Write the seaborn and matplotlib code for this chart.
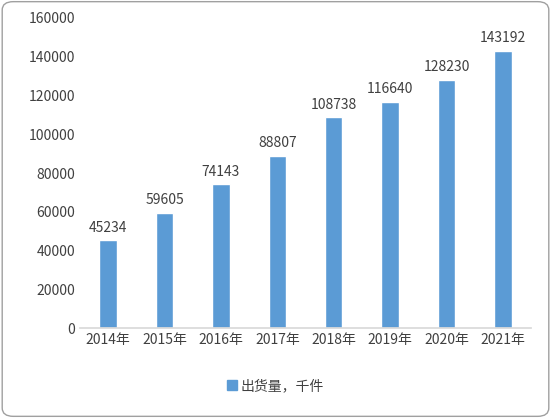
import matplotlib
matplotlib.use("Agg")
import matplotlib.pyplot as plt
import seaborn as sns
import pandas as pd
from matplotlib.patches import FancyBboxPatch, Patch

years = ["2014年","2015年","2016年","2017年","2018年","2019年","2020年","2021年"]
values = [45234, 59605, 74143, 88807, 108738, 116640, 128230, 143192]
series_name = "出货量，千件"

sns.set_theme(style="white")
plt.rcParams['font.family'] = ['Noto Sans CJK SC', 'DejaVu Sans']

fig = plt.figure(figsize=(5.51, 4.18), dpi=100)
ax = fig.add_axes([0.145, 0.215, 0.819, 0.742])
df = pd.DataFrame({"year": years, "v": values})
sns.barplot(data=df, x="year", y="v", color="#5B9BD5", saturation=1, width=0.31, ax=ax)
for i, v in enumerate(values):
    ax.text(i, v + 3000, str(v), ha="center", va="bottom", fontsize=10, color="#404040")
ax.set_ylim(0, 160000)
ax.set_yticks(range(0, 160001, 20000))
ax.tick_params(axis='both', labelsize=10, colors="#404040", length=0)
ax.set_xlabel(""); ax.set_ylabel("")
for s in ["top", "right", "left"]:
    ax.spines[s].set_visible(False)
ax.spines["bottom"].set_color("#D9D9D9")
fig.legend(handles=[Patch(color="#5B9BD5", label=series_name)], loc="lower center",
           bbox_to_anchor=(0.5, 0.03), frameon=False, fontsize=10, handlelength=0.7,
           handleheight=0.7, handletextpad=0.3, labelcolor="#404040")
fig.patches.append(FancyBboxPatch((0.004, 0.004), 0.992, 0.992, boxstyle="round,pad=0,rounding_size=0.02",
                                  transform=fig.transFigure, fill=False, ec="#A0A0A0", lw=1))
fig.savefig("out.png", dpi=100)
